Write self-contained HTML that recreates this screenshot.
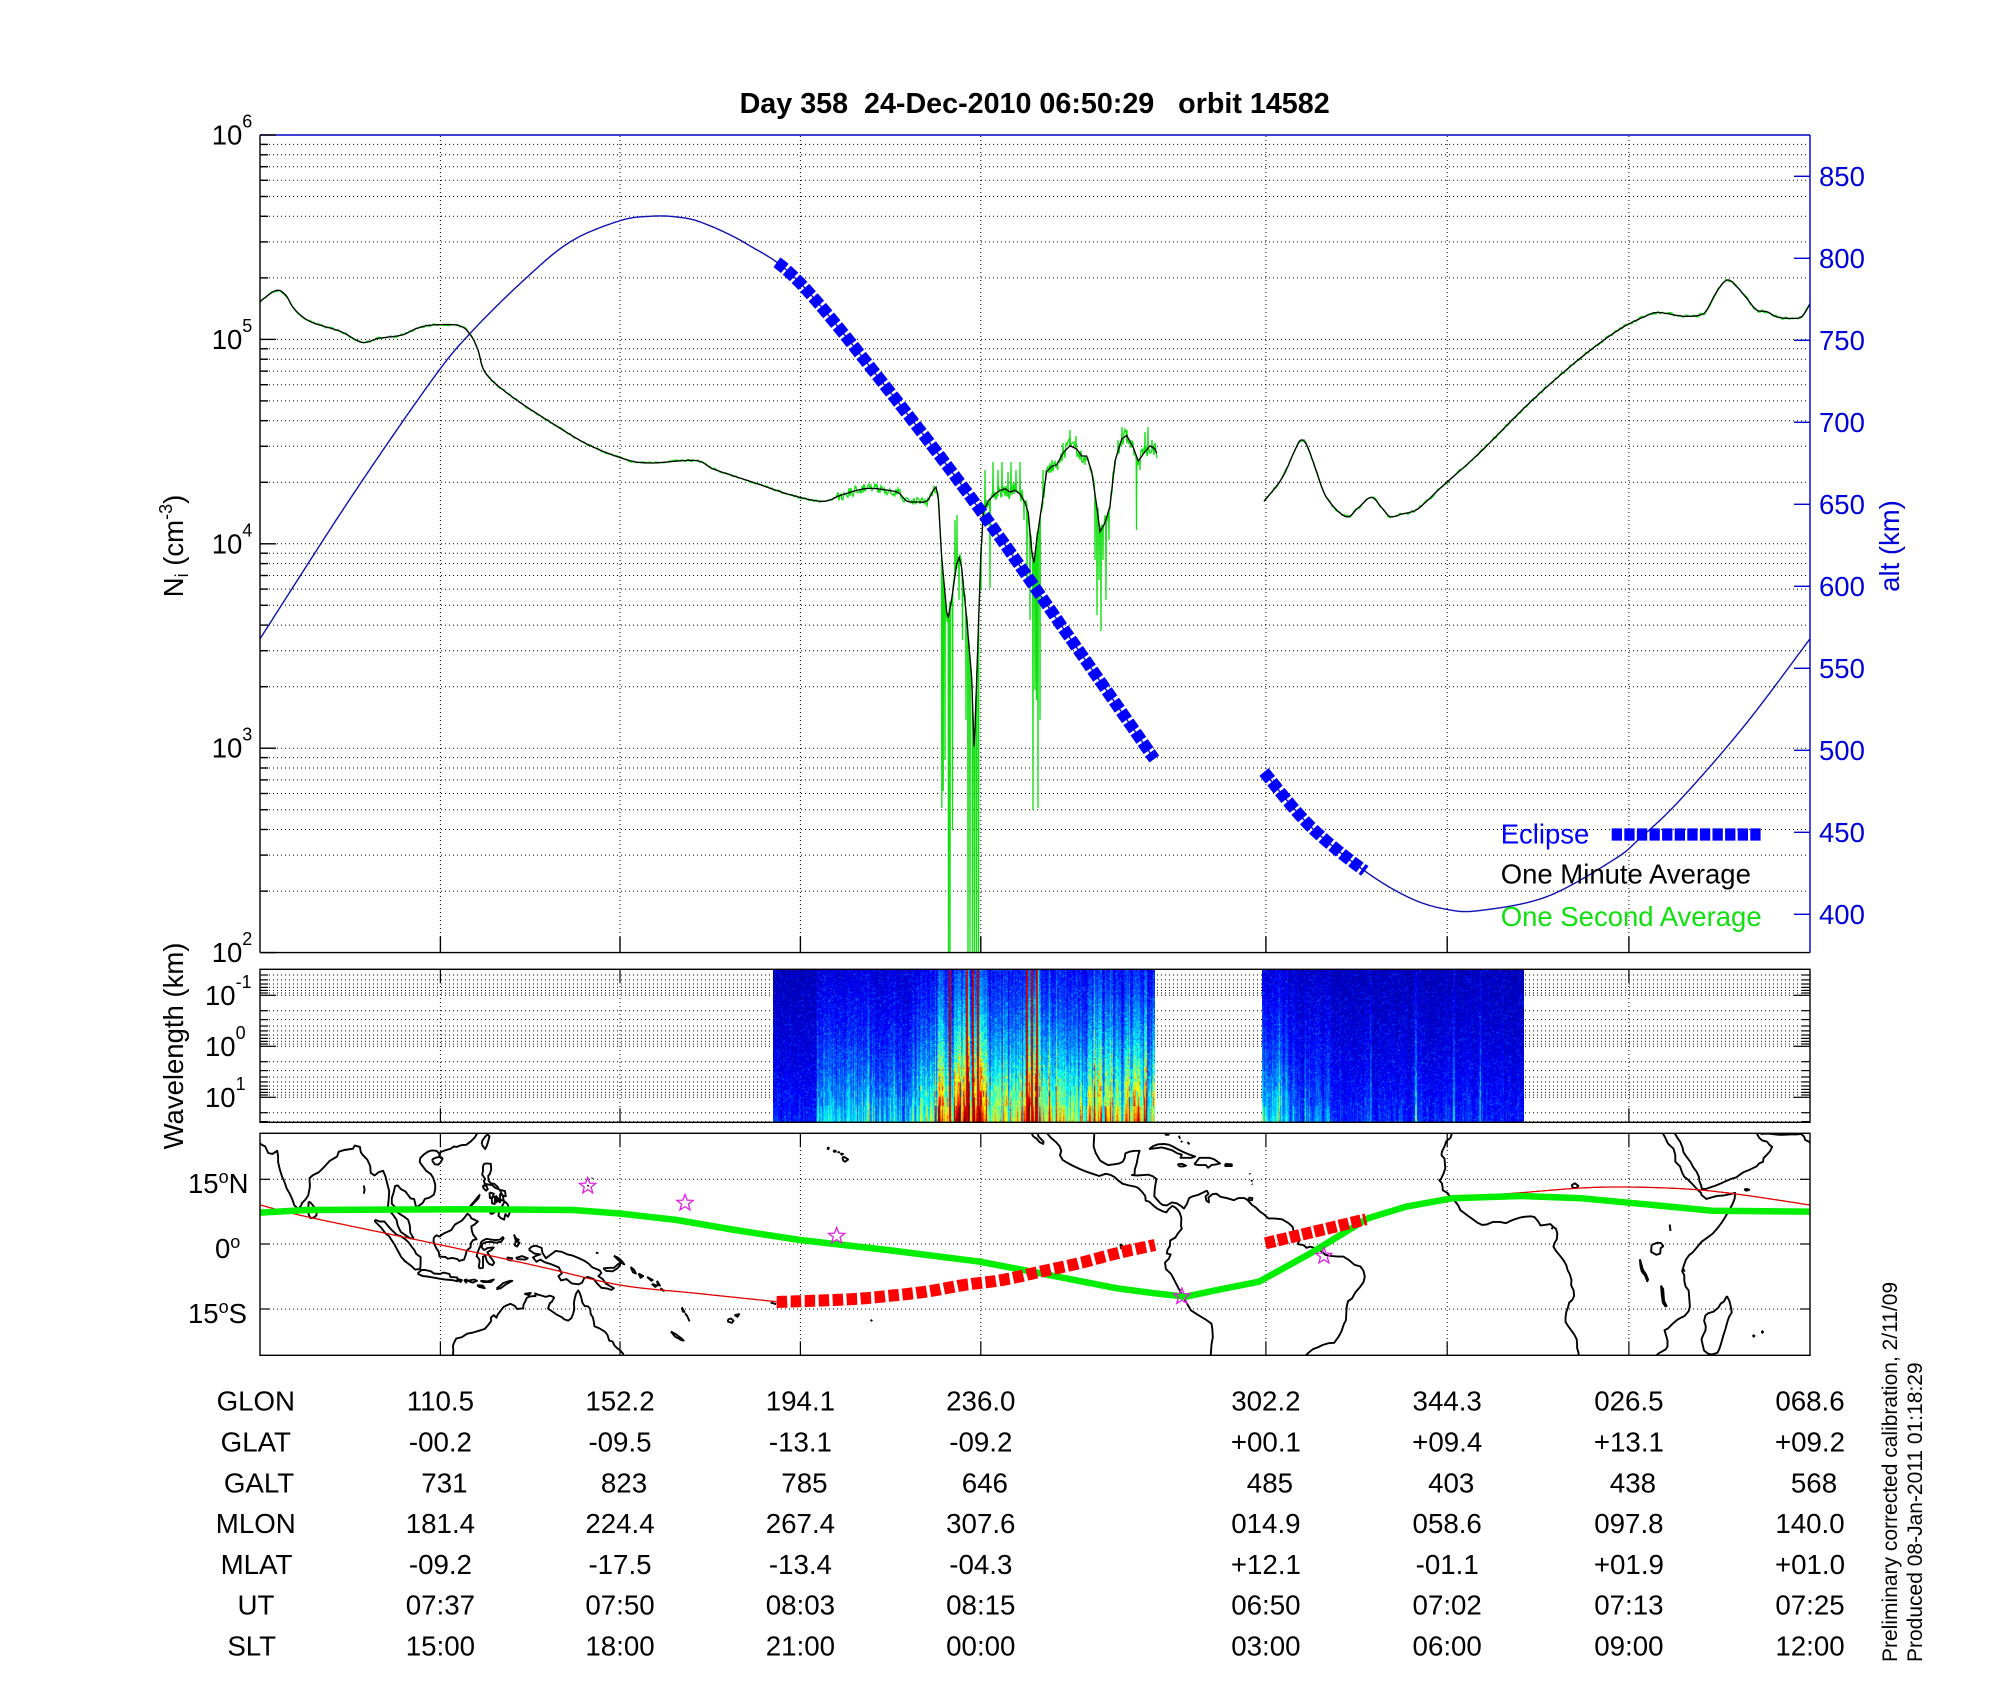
<!DOCTYPE html>
<html><head><meta charset="utf-8">
<style>
html,body{margin:0;padding:0;background:#fff;}
#wrap{position:relative;width:2000px;height:1700px;overflow:hidden;background:#fff;}
#s{position:absolute;left:0;top:0;}
canvas{position:absolute;}
text{font-family:"Liberation Sans",Arial,sans-serif;}
</style></head><body>
<div id="wrap">
<svg id="s" width="2000" height="1700" xmlns="http://www.w3.org/2000/svg">
<defs>
<clipPath id="cp"><rect x="260" y="135" width="1550" height="817.6"/></clipPath>
<clipPath id="cm"><rect x="260" y="1133.3" width="1550" height="222"/></clipPath>
</defs>
<g id="g"></g>
<text x="739.6" y="113" font-size="28.7" font-weight="bold" xml:space="preserve" style="white-space:pre">Day 358  24-Dec-2010 06:50:29   orbit 14582</text>

<g font-size="27.5" fill="#000">
<text x="211.7" y="144.5">10<tspan font-size="18" dy="-17">6</tspan></text>
<text x="211.7" y="348.9">10<tspan font-size="18" dy="-17">5</tspan></text>
<text x="211.7" y="553.3">10<tspan font-size="18" dy="-17">4</tspan></text>
<text x="211.7" y="757.7">10<tspan font-size="18" dy="-17">3</tspan></text>
<text x="211.7" y="962.1">10<tspan font-size="18" dy="-17">2</tspan></text>
<text x="205" y="1005">10<tspan font-size="18" dy="-17">-1</tspan></text>
<text x="205" y="1056">10<tspan font-size="18" dy="-17">0</tspan></text>
<text x="205" y="1107">10<tspan font-size="18" dy="-17">1</tspan></text>
<text x="188" y="1193">15<tspan font-size="18" dy="-10">o</tspan><tspan dy="10">N</tspan></text>
<text x="215" y="1258">0<tspan font-size="18" dy="-10">o</tspan></text>
<text x="188" y="1323">15<tspan font-size="18" dy="-10">o</tspan><tspan dy="10">S</tspan></text>
</g>

<g font-size="27.5" fill="#0000d8">
<text x="1819" y="186">850</text>
<text x="1819" y="268">800</text>
<text x="1819" y="350">750</text>
<text x="1819" y="432">700</text>
<text x="1819" y="514">650</text>
<text x="1819" y="596">600</text>
<text x="1819" y="678">550</text>
<text x="1819" y="760">500</text>
<text x="1819" y="842">450</text>
<text x="1819" y="924">400</text>
</g>

<text transform="translate(183,546) rotate(-90)" text-anchor="middle" font-size="27.5">N<tspan font-size="18" dy="5">i</tspan><tspan dy="-5"> (cm</tspan><tspan font-size="18" dy="-11">-3</tspan><tspan dy="11">)</tspan></text>
<text transform="translate(1899,546) rotate(-90)" text-anchor="middle" font-size="27.5" fill="#0000d8">alt (km)</text>
<text transform="translate(183,1046) rotate(-90)" text-anchor="middle" font-size="27.5">Wavelength (km)</text>

<text transform="translate(1897,1662) rotate(-90)" font-size="21">Preliminary corrected calibration, 2/11/09</text>
<text transform="translate(1922,1662) rotate(-90)" font-size="21">Produced 08-Jan-2011 01:18:29</text>

<g id="tbl" font-size="27.7" text-anchor="middle"></g>
</svg>
<canvas id="c1"></canvas>
<canvas id="c2"></canvas>
<svg id="s3" width="2000" height="1700" xmlns="http://www.w3.org/2000/svg" style="position:absolute;left:0;top:0;pointer-events:none">
<g id="g3"></g>
</svg>
</div>
<script>
(function(){
function rng(seed){return function(){seed|=0;seed=seed+0x6D2B79F5|0;let t=Math.imul(seed^seed>>>15,1|seed);t=t+Math.imul(t^t>>>7,61|t)^t;return((t^t>>>14)>>>0)/4294967296;};}
const R=rng(12345);
function h2(a,b){let h=(Math.imul(a|0,374761393)+Math.imul(b|0,668265263))|0;h=Math.imul(h^(h>>>13),1274126177);h=h^(h>>>16);return (h>>>0)/4294967296;}
let s='';
function f1(v){return (Math.round(v*10)/10).toString();}
function L(x1,y1,x2,y2,a){s+='<line x1="'+f1(x1)+'" y1="'+f1(y1)+'" x2="'+f1(x2)+'" y2="'+f1(y2)+'" '+a+'/>';}
function P(pts,a){s+='<path d="M'+pts.map(p=>f1(p[0])+','+f1(p[1])).join('L')+'" fill="none" '+a+'/>';}
function cr(pts,step){const out=[];step=step||1;
 for(let i=0;i<pts.length-1;i++){const p0=pts[Math.max(i-1,0)],p1=pts[i],p2=pts[i+1],p3=pts[Math.min(i+2,pts.length-1)];
  const m=Math.max(2,Math.ceil(Math.abs(p2[0]-p1[0])/step));
  for(let j=0;j<m;j++){const t=j/m,t2=t*t,t3=t2*t;const o=[0,1].map(k=>0.5*((2*p1[k])+(-p0[k]+p2[k])*t+(2*p0[k]-5*p1[k]+4*p2[k]-p3[k])*t2+(-p0[k]+3*p1[k]-3*p2[k]+p3[k])*t3));out.push(o);}}
 out.push(pts[pts.length-1]);return out;}
function interp(pts,x){if(x<=pts[0][0])return pts[0][1];for(let i=1;i<pts.length;i++){if(pts[i][0]>=x){const a=pts[i-1],b=pts[i];const t=(x-a[0])/((b[0]-a[0])||1);return a[1]+t*(b[1]-a[1]);}}return pts[pts.length-1][1];}

const XT=[440.4,620,800.4,980.8,1265.9,1447.2,1628.9];
const DOT='stroke="#000" stroke-width="1" stroke-dasharray="1 3"';
const yN=v=>135+(6-Math.log10(v))*204.4;
const yS=v=>1046.3+Math.log10(v)*51;

for(let n=2;n<=5;n++)for(let k=1;k<=9;k++){if(n==2&&k==1)continue;const y=yN(k*Math.pow(10,n));L(261,y,1809,y,DOT);}
XT.forEach(x=>L(x,136,x,952,DOT));
for(let d=-2;d<=1;d++)for(let k=1;k<=9;k++){const y=yS(k*Math.pow(10,d));if(y>970&&y<1121.8){L(261,y,1809,y,DOT);const tl=(k==1)?16:8;L(260,y,260+tl,y,'stroke="#000" stroke-width="1.2"');L(1810,y,1810-tl,y,'stroke="#000" stroke-width="1.2"');}}
XT.forEach(x=>{L(x,970,x,1122,DOT);L(x,969.3,x,983.3,'stroke="#000" stroke-width="1.2"');L(x,1122.3,x,1108.3,'stroke="#000" stroke-width="1.2"');});
[1179.3,1244,1309].forEach(y=>{L(261,y,1809,y,DOT);L(260,y,270,y,'stroke="#000" stroke-width="1.2"');L(1810,y,1800,y,'stroke="#000" stroke-width="1.2"');});
XT.forEach(x=>{L(x,1134,x,1355,DOT);L(x,1133.3,x,1147.3,'stroke="#000" stroke-width="1.2"');L(x,1355.3,x,1341.3,'stroke="#000" stroke-width="1.2"');});

function M(lon,lat,w){return [260+(lon+w-68.6)*4.3056,1244-lat*4.333];}
const asia=[
[[66.5,25.4],[67.2,24.8],[67.5,24],[68.4,23.6],[68.8,23.0],[69.8,22.5],[70.5,21.0],[71.5,20.8],[72.6,21.5],[72.8,20.2],[72.8,18.9],[73.2,17.2],[73.7,15.6],[74.3,14.3],[74.8,12.8],[75.5,11.6],[76.1,10.3],[76.6,8.9],[77.5,8.1],[78.1,8.8],[78.4,9.5],[79.2,10.3],[79.8,11.2],[80.2,13.2],[80.1,15.2],[80.9,15.9],[82.3,16.6],[83.5,17.8],[84.8,19.2],[86.5,20.2],[86.9,21.3],[88.2,21.7],[89,21.8],[90.2,22.0],[90.6,22.7],[91.8,22.4],[92.0,21.2],[92.4,20.6],[93.5,19.5],[94.2,18.0],[94.3,16.4],[95.2,15.8],[96.2,16.6],[97.2,16.9],[97.7,15.7],[98.2,13.8],[98.6,12.2],[98.5,10.4],[98.3,8.5],[98.5,7.9],[99.6,6.6],[100.3,5.6],[100.6,4.2],[101.3,2.8],[102.6,1.9],[103.5,1.3],[104.2,1.4],[103.5,2.6],[103.4,4.3],[103.0,5.6],[102.2,6.2],[101.1,6.9],[100.4,7.4],[100.0,8.5],[99.2,9.3],[99.2,10.6],[99.6,11.8],[100.0,13.4],[100.6,13.5],[101.3,12.7],[102.4,12.1],[102.9,11.4],[103.6,10.5],[104.4,10.4],[104.8,8.7],[105.2,8.6],[106.4,9.5],[106.9,10.4],[108.0,10.7],[109.0,11.4],[109.3,12.6],[109.3,13.8],[108.8,15.3],[108.3,16.1],[107.2,16.9],[106.5,17.8],[105.7,18.9],[105.8,19.8],[106.6,20.6],[107.6,21.3],[108.5,21.6],[109.6,21.5],[110.2,20.9],[110.3,20.3],[110.5,21.2],[111.6,21.6],[112.9,22.0],[113.6,22.5],[114.3,22.4],[115.3,22.8],[116.5,22.9],[117.5,23.6],[118.5,24.6],[119.2,25.8]],
[[79.9,9.8],[80.4,9.5],[81.2,8.5],[81.8,7.4],[81.7,6.6],[81.1,6.1],[80.3,6.0],[79.9,6.8],[79.8,8.2],[79.9,9.8]],
[[92.7,13.5],[92.9,12.5],[92.7,11.6]],
[[108.6,19.2],[109.2,18.4],[110.0,18.3],[110.6,18.9],[111.0,19.7],[110.6,20.1],[109.7,20.0],[108.7,19.6],[108.6,19.2]],
[[120.1,23.0],[120.6,22.3],[120.9,21.9],[121.3,22.7],[121.6,23.7],[121.9,24.8],[121.5,25.3],[120.9,24.8],[120.2,23.8],[120.1,23.0]],
[[120.6,18.5],[121.2,18.6],[122.2,18.5],[122.3,17.2],[122.0,16.2],[121.6,15.7],[121.7,14.6],[122.2,14.0],[123.0,13.9],[123.8,13.2],[124.1,12.6],[123.2,13.0],[122.5,13.6],[121.7,13.7],[120.8,13.9],[120.6,14.6],[120.9,15.0],[120.2,16.0],[120.4,16.9],[120.4,17.8],[120.6,18.5]],
[[120.3,13.5],[121.2,13.4],[121.5,12.6],[121.1,12.3],[120.5,12.9],[120.3,13.5]],
[[121.9,11.9],[122.9,11.6],[122.5,10.6],[122.0,10.6],[121.9,11.9]],
[[122.4,10.8],[123.2,10.9],[123.1,9.2],[122.5,9.4],[122.4,10.8]],
[[123.3,11.2],[124.0,10.4],[123.5,9.6],[123.3,11.2]],
[[124.3,12.5],[125.5,12.2],[125.7,11.0],[124.9,11.2],[124.3,12.5]],
[[124.3,11.6],[125.0,11.2],[125.2,10.0],[124.4,10.2],[124.3,11.6]],
[[123.8,10.1],[124.5,10.0],[124.3,9.6],[123.8,10.1]],
[[122.0,7.0],[122.5,7.8],[123.4,7.8],[123.9,8.4],[124.7,8.5],[125.4,9.8],[126.1,9.2],[126.4,8.2],[126.6,7.2],[126.2,6.3],[125.6,6.9],[125.3,5.6],[124.5,6.0],[124.0,6.5],[124.1,7.3],[123.7,7.6],[123.2,7.4],[122.6,7.0],[122.0,7.0]],
[[117.2,8.4],[118.2,9.4],[119.3,10.5],[119.6,11.3],[119.2,10.9],[118.5,10.0],[117.6,9.0],[117.2,8.4]],
[[109.0,1.5],[109.6,2.0],[110.3,1.7],[111.2,2.4],[113.0,3.2],[113.9,4.5],[114.8,5.0],[115.5,5.4],[116.2,6.2],[116.8,7.0],[117.3,6.6],[117.7,5.9],[118.4,5.6],[119.2,5.2],[118.3,4.4],[117.7,4.1],[117.8,3.1],[118.1,2.2],[118.9,1.1],[118.1,0.9],[117.6,0.2],[117.5,-0.8],[116.6,-1.5],[116.4,-2.4],[116.0,-3.6],[114.8,-3.9],[114.5,-3.5],[113.3,-3.2],[112.2,-3.4],[111.7,-3.0],[110.3,-2.9],[110.1,-1.8],[109.5,-0.9],[109.1,0.0],[108.9,0.7],[109.0,1.5]],
[[95.3,5.6],[96.4,5.2],[97.5,5.2],[98.3,4.2],[99.2,3.2],[100.4,2.1],[101.3,1.8],[102.2,1.2],[103.1,0.4],[103.8,-0.6],[104.4,-1.3],[104.9,-2.3],[105.9,-3.0],[105.9,-4.5],[105.8,-5.8],[104.6,-5.9],[103.8,-5.1],[102.3,-4.0],[101.4,-3.0],[100.9,-2.1],[100.3,-1.0],[99.7,0.1],[99.1,1.0],[98.6,1.8],[97.7,2.5],[96.9,3.6],[96.1,4.4],[95.3,5.2],[95.3,5.6]],
[[105.2,-6.8],[106.1,-6.0],[107.0,-6.0],[108.3,-6.3],[109.0,-6.8],[110.4,-6.9],[111.2,-6.6],[112.6,-6.9],[112.8,-7.6],[114.4,-7.7],[114.5,-8.6],[113.2,-8.3],[111.6,-8.2],[110.3,-8.0],[108.7,-7.7],[107.4,-7.5],[106.4,-7.4],[105.3,-6.9],[105.2,-6.8]],
[[114.5,-8.1],[115.5,-8.3],[115.2,-8.8],[114.5,-8.1]],
[[116.0,-8.3],[116.6,-8.2],[116.5,-8.9],[116.0,-8.3]],
[[116.8,-8.5],[118.3,-8.2],[119.0,-8.5],[118.0,-8.9],[116.8,-8.5]],
[[119.8,-8.5],[121.5,-8.6],[122.9,-8.2],[122.2,-8.8],[120.5,-8.8],[119.8,-8.5]],
[[119.0,-9.5],[120.3,-9.6],[120.8,-10.2],[119.5,-9.9],[119.0,-9.5]],
[[123.5,-10.3],[124.4,-9.6],[125.1,-9.0],[126.7,-8.5],[127.2,-8.5],[125.6,-9.4],[124.5,-10.2],[123.7,-10.4],[123.5,-10.3]],
[[119.4,-5.5],[119.6,-4.0],[119.5,-3.5],[118.9,-2.8],[119.3,-1.5],[119.8,-0.4],[119.9,0.4],[120.4,0.8],[121.2,1.2],[122.4,1.0],[123.3,0.9],[124.3,1.0],[125.0,1.6],[125.2,1.3],[124.6,0.5],[123.5,0.3],[122.0,0.5],[121.0,0.4],[120.2,0.0],[120.1,-0.8],[120.7,-1.4],[121.5,-0.9],[122.9,-0.8],[122.3,-1.4],[121.4,-1.9],[122.0,-2.9],[122.5,-3.5],[123.0,-4.3],[122.6,-4.9],[121.8,-4.6],[121.3,-4.0],[120.9,-2.7],[120.4,-2.9],[120.4,-4.2],[120.4,-5.5],[119.8,-5.6],[119.4,-5.5]],
[[127.6,2.2],[128.0,1.3],[128.7,1.0],[128.2,0.6],[128.9,0.3],[128.3,-0.6],[127.8,-0.3],[128.0,0.8],[127.6,2.2]],
[[128.0,-3.2],[129.5,-2.8],[130.8,-3.3],[130.2,-3.6],[128.5,-3.5],[128.0,-3.2]],
[[126.0,-3.1],[127.2,-3.3],[126.9,-3.8],[126.1,-3.6],[126.0,-3.1]],
[[131.0,-1.3],[131.7,-0.6],[132.7,-0.4],[134.0,-0.9],[134.2,-2.0],[135.0,-3.3],[135.9,-2.6],[137.3,-1.6],[138.7,-1.8],[140.0,-2.4],[141.0,-2.6],[142.5,-3.2],[144.0,-3.9],[145.0,-4.6],[145.8,-5.4],[147.5,-6.1],[147.9,-6.7],[147.2,-7.4],[148.2,-8.1],[148.9,-9.1],[149.7,-9.6],[150.8,-10.2],[150.2,-10.6],[149.3,-10.3],[147.9,-10.1],[146.9,-9.1],[146.1,-8.1],[144.7,-7.6],[143.9,-7.9],[143.4,-8.9],[142.6,-9.3],[141.0,-9.1],[139.8,-8.1],[138.5,-8.4],[137.9,-7.4],[138.7,-6.8],[138.0,-5.4],[136.0,-4.6],[134.7,-4.2],[133.7,-3.6],[132.8,-4.1],[132.0,-3.1],[132.8,-2.7],[133.7,-2.4],[132.3,-2.2],[131.0,-1.3]],
[[148.3,-5.6],[149.8,-5.5],[150.8,-5.5],[151.5,-4.9],[152.3,-4.3],[152.2,-5.0],[151.5,-5.7],[150.5,-6.3],[149.0,-6.2],[148.3,-5.6]],
[[150.8,-2.7],[151.8,-3.2],[152.7,-4.0],[153.2,-4.7],[152.8,-4.5],[151.7,-3.6],[150.8,-2.7]],
[[154.7,-5.3],[155.5,-6.0],[155.9,-6.8],[155.2,-6.5],[154.7,-5.3]],
[[156.5,-6.8],[157.6,-7.4],[157.0,-7.8],[156.5,-6.8]],
[[158.5,-7.6],[159.8,-8.3],[159.5,-8.5],[158.5,-7.6]],
[[159.6,-9.2],[160.8,-9.6],[160.4,-9.9],[159.6,-9.2]],
[[160.8,-8.5],[161.5,-9.6],[161.0,-9.4],[160.8,-8.5]],
[[161.6,-10.2],[162.4,-10.8],[161.6,-10.5]],
[[146.6,-2.0],[147.2,-2.1]],
[[144.7,13.3],[144.9,13.6]],[[145.7,15.1],[145.8,15.3]],
[[166.6,-14.6],[167.2,-15.7],[166.8,-15.6],[166.6,-14.6]],
[[167.3,-16.0],[167.8,-16.6],[168.3,-17.7],[168.1,-17.3]],
[[164.0,-20.2],[165.3,-20.9],[166.5,-21.8],[167.0,-22.3],[166.5,-22.2],[165.0,-21.4],[164.0,-20.2]],
[[177.3,-17.4],[178.0,-17.2],[178.6,-17.7],[178.2,-18.2],[177.3,-17.9],[177.3,-17.4]],
[[178.8,-16.4],[179.9,-16.2],[179.5,-16.8],[178.8,-16.4]],
[[130.0,-11.5],[131.5,-11.3],[131.0,-11.8],[130.0,-11.5]],
[[113.4,-25.8],[113.5,-24.5],[113.4,-23.5],[113.8,-22.5],[114.2,-21.8],[115.5,-21.5],[116.7,-20.7],[118.2,-20.4],[119.5,-20.0],[120.8,-19.6],[121.6,-18.7],[122.3,-17.8],[122.2,-17.0],[122.9,-16.4],[123.5,-17.0],[123.8,-16.3],[124.5,-15.4],[125.2,-14.5],[126.0,-14.1],[126.8,-13.8],[127.8,-14.3],[128.3,-15.0],[129.2,-14.9],[129.7,-14.9],[129.8,-14.0],[130.2,-13.3],[130.6,-12.4],[131.3,-12.1],[132.6,-12.0],[132.5,-11.4],[133.2,-11.7],[134.0,-11.9],[135.0,-12.2],[135.9,-11.9],[136.7,-12.2],[136.9,-12.4],[136.4,-13.3],[135.9,-13.7],[135.5,-14.9],[136.5,-15.6],[137.5,-16.3],[138.7,-16.9],[139.3,-17.4],[140.2,-17.7],[140.9,-17.1],[141.3,-16.2],[141.6,-15.0],[141.5,-13.6],[141.7,-12.6],[142.0,-11.5],[142.5,-10.7],[142.8,-11.2],[143.2,-12.3],[143.5,-13.6],[144.0,-14.3],[144.8,-14.4],[145.3,-15.0],[145.4,-16.2],[145.9,-16.9],[146.1,-17.8],[146.3,-19.0],[147.5,-19.5],[148.8,-20.3],[149.3,-21.0],[149.7,-22.3],[150.5,-22.5],[150.9,-23.4],[151.6,-24.1],[152.3,-24.6],[152.9,-25.3],[153.1,-25.9]]
];
const amer=[
[[-112.3,25.8],[-111.8,24.8],[-111.0,24.3],[-110.3,23.5],[-109.5,23.1],[-109.4,23.6],[-110.0,24.2],[-110.6,24.8],[-110.8,25.8]],
[[-108.8,25.8],[-107.8,24.6],[-106.5,23.5],[-105.7,22.6],[-105.3,21.5],[-105.6,20.5],[-105.0,19.4],[-103.8,18.7],[-102.5,18.0],[-101.0,17.3],[-99.5,16.7],[-98.0,16.2],[-96.5,15.7],[-95.0,16.2],[-94.0,16.0],[-93.0,15.5],[-92.0,14.6],[-91.0,13.9],[-89.5,13.5],[-88.0,13.2],[-87.4,12.9],[-86.5,12.0],[-85.8,11.1],[-85.7,10.0],[-85.0,9.8],[-84.7,9.6],[-83.6,8.6],[-82.9,8.1],[-81.6,7.5],[-80.9,7.3],[-80.4,8.0],[-79.5,8.8],[-78.8,8.4],[-78.2,7.8],[-77.8,7.2],[-77.4,6.0],[-77.5,4.2],[-77.3,3.5],[-78.2,2.5],[-78.8,1.5],[-80.0,0.8],[-80.1,-0.5],[-80.6,-1.3],[-80.8,-2.2],[-79.9,-2.4],[-80.3,-3.4],[-81.2,-4.3],[-81.0,-5.8],[-79.8,-6.9],[-79.0,-8.4],[-78.2,-10.0],[-77.2,-11.8],[-76.2,-13.6],[-75.2,-15.3],[-73.5,-16.4],[-71.8,-17.4],[-70.4,-18.4],[-70.2,-19.8],[-70.1,-21.5],[-70.4,-23.2],[-70.5,-24.5],[-70.6,-25.8]],
[[-97.6,25.8],[-97.7,24.3],[-97.8,22.5],[-97.3,21.0],[-96.3,19.3],[-95.2,18.6],[-94.4,18.2],[-93.0,18.4],[-91.8,18.6],[-91.0,19.0],[-90.6,19.8],[-90.4,20.9],[-89.5,21.3],[-88.2,21.5],[-87.1,21.5],[-87.4,20.5],[-87.6,19.6],[-87.8,18.5],[-88.2,17.3],[-88.3,16.0],[-88.9,15.9],[-87.7,15.8],[-86.3,15.9],[-85.0,16.0],[-84.0,15.6],[-83.2,15.0],[-83.4,14.0],[-83.6,12.5],[-83.7,11.0],[-83.1,10.3],[-82.3,9.4],[-81.7,9.0],[-80.8,8.9],[-79.6,9.6],[-78.5,9.4],[-77.4,8.7],[-76.8,8.2],[-76.1,9.3],[-75.6,10.6],[-74.8,11.0],[-73.6,11.3],[-72.3,11.9],[-71.5,12.3],[-71.1,11.6],[-71.8,11.0],[-71.6,10.0],[-71.0,9.6],[-71.1,10.8],[-70.2,11.5],[-69.3,11.6],[-68.3,10.9],[-66.9,10.6],[-65.2,10.1],[-64.2,10.6],[-62.8,10.6],[-62.0,10.1],[-61.0,9.0],[-60.2,8.5],[-59.3,7.6],[-58.3,6.9],[-57.2,5.9],[-55.9,5.9],[-54.0,5.7],[-52.5,4.8],[-51.6,4.0],[-51.2,2.6],[-50.3,1.8],[-49.9,1.0],[-50.4,0.0],[-49.0,-0.3],[-48.3,-0.9],[-47.5,-0.6],[-46.2,-1.0],[-44.7,-1.8],[-44.0,-2.5],[-42.5,-2.8],[-41.0,-2.9],[-39.8,-2.9],[-38.5,-3.7],[-37.2,-4.8],[-35.8,-5.2],[-35.1,-6.2],[-34.8,-7.5],[-35.1,-8.8],[-35.9,-9.9],[-37.0,-11.2],[-37.8,-12.6],[-38.7,-13.2],[-39.0,-14.5],[-39.1,-16.0],[-39.2,-17.6],[-39.7,-18.6],[-40.2,-20.1],[-40.9,-21.4],[-41.9,-22.8],[-43.2,-22.9],[-44.6,-23.3],[-45.6,-23.8],[-46.9,-24.3],[-47.9,-25.1],[-48.6,-25.8]],
[[-84.9,21.9],[-84.0,22.6],[-82.8,23.0],[-81.4,23.1],[-80.2,22.9],[-79.2,22.4],[-77.9,21.7],[-76.9,21.2],[-75.7,20.7],[-74.2,20.2],[-75.1,19.9],[-76.6,19.9],[-77.6,19.9],[-77.3,20.6],[-78.3,20.9],[-79.5,21.6],[-80.8,22.0],[-82.0,22.3],[-83.3,22.1],[-84.9,21.9]],
[[-74.4,18.4],[-73.2,19.9],[-72.0,19.9],[-70.9,19.9],[-69.9,19.6],[-68.4,18.6],[-69.2,18.4],[-70.4,18.2],[-71.2,17.6],[-71.7,18.2],[-73.4,18.2],[-74.4,18.4]],
[[-78.3,18.4],[-77.3,18.5],[-76.3,18.1],[-76.9,17.9],[-77.8,17.9],[-78.3,18.4]],
[[-67.2,18.5],[-65.7,18.4],[-65.7,18.0],[-67.2,18.0],[-67.2,18.5]],
[[-61.6,16.3],[-61.4,16.1]],[[-61.1,14.8],[-61.0,14.4]],[[-61.0,13.9],[-60.9,13.7]],
[[-61.8,10.7],[-60.9,10.6],[-61.0,10.1],[-61.8,10.1],[-61.8,10.7]],
[[-78.0,25.0],[-77.7,24.3]],[[-77.5,23.8],[-77.2,23.5]],[[-76.0,23.5],[-75.5,23.0]],
[[-81.3,25.8],[-81.0,25.2],[-80.4,25.2],[-80.2,25.8]],
[[-91.6,0.0],[-91.2,-0.3],[-91.4,-1.0],[-91.6,0.0]],[[-90.6,-0.5],[-90.3,-0.8]],
[[-155.9,20.2],[-155.1,19.7],[-154.8,19.5],[-155.5,19.0],[-155.9,19.2],[-156.1,19.8],[-155.9,20.2]],
[[-156.6,20.9],[-156.0,20.8],[-156.3,20.6],[-156.6,20.9]],
[[-158.2,21.6],[-157.7,21.5],[-157.7,21.3],[-158.1,21.3],[-158.2,21.6]],
[[-159.7,22.2],[-159.3,22.2],[-159.4,21.9],[-159.7,22.1]],
[[-157.3,21.2],[-156.7,21.15]],
[[-172.8,-13.5],[-171.5,-13.9]],[[-149.6,-17.5],[-149.2,-17.8]],
[[-14.5,25.8],[-14.9,24.5],[-15.9,23.7],[-16.3,22.5],[-16.9,21.3],[-17.0,20.5],[-16.3,19.7],[-16.2,18.6],[-16.1,17.5],[-16.5,16.3],[-17.1,15.0],[-17.5,14.7],[-16.9,14.0],[-16.7,13.0],[-16.7,12.4],[-15.6,11.8],[-15.1,11.0],[-14.6,10.4],[-13.8,9.8],[-13.1,8.9],[-12.6,7.8],[-11.9,7.3],[-11.0,6.6],[-10.0,5.9],[-8.8,5.0],[-7.6,4.4],[-6.5,4.5],[-5.0,5.1],[-3.5,5.1],[-2.0,4.8],[-1.0,5.3],[0.0,5.7],[1.2,6.1],[2.5,6.3],[3.8,6.4],[4.6,6.2],[5.4,5.3],[6.0,4.3],[7.0,4.4],[8.3,4.6],[8.9,4.0],[9.6,3.5],[9.9,2.4],[9.8,1.1],[9.3,0.3],[9.0,-0.6],[9.6,-1.6],[10.5,-2.7],[11.4,-3.8],[12.0,-4.9],[12.3,-6.0],[12.8,-7.0],[13.2,-8.3],[13.1,-9.5],[13.7,-10.7],[13.8,-12.0],[13.4,-12.9],[12.7,-13.5],[12.4,-14.6],[12.0,-15.7],[11.8,-17.0],[11.8,-18.0],[12.4,-18.9],[13.2,-20.0],[13.9,-21.0],[14.4,-22.0],[14.5,-23.0],[14.5,-24.0],[14.8,-25.0],[14.9,-25.8]],
[[8.5,3.7],[8.9,3.5]],
[[34.3,25.8],[35.0,24.5],[35.6,23.2],[36.9,22.0],[37.3,20.5],[37.3,19.0],[38.4,17.9],[38.9,16.5],[39.4,15.5],[40.3,14.8],[41.3,13.8],[42.4,12.6],[43.3,11.8],[43.4,11.3],[44.5,10.4],[45.6,10.7],[47.0,11.1],[48.5,11.2],[50.0,11.5],[51.2,11.8],[51.1,10.5],[50.6,9.2],[49.8,7.8],[48.9,6.2],[48.0,4.8],[47.0,3.5],[46.0,2.4],[44.8,1.5],[43.4,0.5],[42.3,-0.8],[41.4,-1.9],[40.5,-2.6],[39.8,-3.6],[39.3,-4.9],[38.9,-6.3],[39.4,-7.2],[39.4,-8.5],[39.7,-9.8],[40.4,-10.7],[40.5,-11.8],[40.6,-13.2],[40.7,-14.5],[40.4,-15.5],[39.5,-16.6],[37.9,-17.4],[36.8,-18.3],[35.6,-19.5],[34.8,-19.9],[35.2,-21.2],[35.5,-22.3],[35.5,-23.6],[35.1,-24.3],[33.5,-25.2],[32.8,-25.8]],
[[49.3,-12.0],[49.9,-13.2],[50.3,-14.9],[50.4,-15.8],[49.8,-16.8],[49.4,-18.0],[49.0,-19.5],[48.5,-21.0],[48.0,-22.8],[47.5,-24.3],[47.1,-25.1],[45.8,-25.5],[44.9,-25.3],[44.0,-24.6],[43.7,-23.4],[43.4,-22.0],[43.8,-21.0],[44.3,-20.0],[44.4,-19.0],[44.0,-17.7],[44.3,-16.5],[44.9,-16.0],[46.2,-15.6],[47.3,-14.7],[47.9,-13.7],[48.6,-13.3],[49.3,-12.0]],
[[37.0,25.8],[37.8,24.5],[38.5,23.5],[39.0,22.2],[39.2,21.2],[40.0,20.0],[40.8,19.0],[41.5,17.7],[42.3,16.6],[42.8,15.5],[42.9,14.5],[43.3,13.5],[43.5,12.7],[44.4,12.7],[45.2,13.0],[46.5,13.4],[48.0,14.0],[49.0,14.5],[50.2,15.0],[51.5,15.4],[52.3,16.0],[53.2,16.6],[54.3,17.0],[55.3,17.5],[56.2,17.9],[56.8,18.6],[57.7,19.0],[57.8,19.8],[58.5,20.5],[59.3,21.4],[59.8,22.4],[59.2,22.9],[58.6,23.6],[57.5,23.9],[56.8,24.5],[56.3,25.4],[56.2,25.8]],
[[53.3,12.6],[54.0,12.7],[54.5,12.5],[53.8,12.3],[53.3,12.6]],
[[56.8,25.8],[57.3,25.4],[58.5,25.5],[59.6,25.4],[61.5,25.2],[62.5,25.2],[64.0,25.3],[65.5,25.3],[66.5,25.4],[67.2,24.8],[67.5,24.0],[68.4,23.6],[68.8,23.0],[69.8,22.5]],
[[31.8,-0.2],[33.2,0.3],[34.0,0.2],[34.5,-0.5],[33.9,-1.0],[33.8,-2.2],[32.9,-2.5],[31.7,-1.8],[31.8,-0.2]],
[[29.1,-3.5],[29.4,-4.6],[29.8,-6.0],[30.5,-7.0],[31.0,-8.2],[30.8,-8.6],[30.3,-7.3],[29.5,-6.3],[29.2,-5.0],[29.1,-3.5]],
[[34.0,-9.6],[34.5,-10.4],[34.6,-11.8],[34.7,-13.2],[35.3,-14.3],[35.0,-14.4],[34.4,-13.5],[34.2,-12.0],[34.0,-9.6]],
[[13.2,13.6],[14.0,14.0],[14.8,13.4],[14.3,12.9],[13.5,13.0],[13.2,13.6]],
[[36.0,4.5],[36.2,3.0]],
[[57.4,-20.0],[57.7,-20.3],[57.5,-20.5],[57.4,-20.0]],
[[55.3,-21.0],[55.7,-21.2],[55.5,-21.4],[55.3,-21.0]],
[[39.2,-5.8],[39.5,-6.4]]
];
s+='<g clip-path="url(#cm)">';
const CST='stroke="#000" stroke-width="1.9" stroke-linejoin="round"';
asia.forEach(c=>P(c.map(p=>M(p[0],p[1],0)),CST));
amer.forEach(c=>P(c.map(p=>M(p[0],p[1],360)),CST));
P(cr([[260.3,1205],[306.7,1216.7],[433.3,1243.3],[540,1266.7],[620,1285],[696.4,1293.3],[776.7,1301.7]],2),'stroke="#e00000" stroke-width="1.3"');
P(cr([[1366,1219.3],[1406,1206],[1452,1198.3],[1520.7,1192.7],[1597,1187.3],[1673.5,1188.3],[1730.8,1193.3],[1810,1205]],2),'stroke="#e00000" stroke-width="1.3"');
P([[258,1212.7],[306.7,1210],[473,1209.3],[573,1210],[620,1213.5],[677,1220],[735,1230],[800,1240],[887.5,1250],[980,1261.7],[1040.4,1273.3],[1116.9,1288.3],[1155,1293.3],[1185.7,1296.7],[1217,1290],[1259,1281.7],[1310.5,1253.3],[1367.8,1218.3],[1406,1206.7],[1451.9,1198.3],[1520.7,1196],[1581.8,1198.3],[1635.3,1203.3],[1711.7,1210.7],[1812,1211.7]],'stroke="#00ee00" stroke-width="6.5" stroke-linejoin="round"');
P(cr([[776.7,1302],[849.3,1299.3],[887.5,1296],[925.8,1291.7],[964,1285],[1002.2,1280],[1040.4,1271.7],[1078.6,1263.3],[1116.9,1253.3],[1155,1245]],2),'stroke="#ff0000" stroke-width="12" stroke-dasharray="10.5 3.5"');
P([[1265.4,1243.3],[1366,1219.3]],'stroke="#ff0000" stroke-width="12" stroke-dasharray="10 2.6"');
function star(cx,cy,r){const p=[];for(let i=0;i<10;i++){const a=-Math.PI/2+i*Math.PI/5;const rr=i%2?r*0.42:r;p.push(f1(cx+rr*Math.cos(a))+','+f1(cy+rr*Math.sin(a)));}s+='<polygon points="'+p.join(' ')+'" fill="none" stroke="#e020e0" stroke-width="1.3"/>';}
[[587.7,1186],[685,1203],[836.7,1236],[1181.8,1296.5],[1323.9,1256]].forEach(q=>star(q[0],q[1],8.5));
s+='</g>';

const altA=cr([[260,638.8],[350,499],[432,380],[470.5,333],[524,280],[570,242],[619,221],[650,216.3],[677,217],[703,223],[748,244.7],[800,282.9],[890,392],[980.8,510.9],[1070,638],[1154.3,759]],1);
const altB=cr([[1264,772],[1310,826],[1364.8,871],[1410,898],[1447,909.4],[1480,910.5],[1546.7,896.7],[1613.3,860],[1640,838.3],[1680,800],[1745,725],[1810,638.8]],1);
const BLraw=[[260,301.5],[276,290.5],[285.6,295],[294.3,309],[310.3,321.6],[340.9,331.6],[361.8,342.3],[379,338.3],[401.9,335],[417,328.3],[432.4,325],[459,325.6],[470.5,335],[478,350],[485.8,373.4],[510.2,395.4],[548.5,420.9],[586.7,443.9],[625,459.2],[650.5,463],[695.1,460.5],[714.3,469.4],[752.5,482.1],[790.8,494.9],[822.7,501.3],[841.8,494.9],[867.3,488.5],[892.9,491.1],[900,494],[906.7,501],[916.7,502],[926.7,501],[933.3,490.4]];
const BLtail=[[936,487],[938.3,499],[941.7,557.5],[946.7,612],[948.3,617.6],[951.7,598.7],[956.7,564],[959.3,557.5],[961.7,568],[966.7,619],[971.7,677.7],[974,746.5],[975,729],[977.3,660.5],[980.7,557.5],[983.3,512.8],[988.3,500.8],[995,494],[1000,490.4],[1005,488.7],[1010,492],[1015,490.4],[1020,494],[1025,502.5],[1028.3,512.8],[1031.7,550.6],[1034,562.6],[1036.7,540],[1041.7,506],[1046.7,471.5],[1051.7,466.4],[1056.7,464.7],[1063.3,452.6],[1070,445.8],[1076.7,449],[1081.7,456],[1086.7,456],[1091.7,471.5],[1096.7,506],[1100,531.7],[1105,523],[1110,506],[1115,461],[1121.7,439],[1126.7,435.5],[1133.3,447.5],[1138.3,461],[1143.3,454],[1150,445.8],[1155,449],[1156.7,453.3]];
const BL=cr(BLraw,1).concat(BLtail);
const BR=cr([[1264,501.3],[1281.9,478.3],[1295,450],[1301,440],[1307.4,446.4],[1316,470],[1326.5,497.4],[1345.7,516.6],[1358,508],[1371.2,497.4],[1382,508],[1390.3,516.6],[1402,514],[1415.8,510.2],[1428,500],[1441.3,487.2],[1479.6,452.8],[1530.6,401.8],[1581.6,357.1],[1619.9,329.1],[1645.4,316.3],[1658.2,312.5],[1683.7,316.3],[1700,315],[1706.7,310],[1716.7,291.7],[1727.3,280],[1736.7,286.7],[1746.7,298.3],[1756.7,310],[1766.7,311.7],[1778.3,317.3],[1796.7,318.3],[1803.3,315],[1810.3,303.3]],1);
const spikes=[[941.8,808],[943.2,791],[945,760],[948.5,960],[950,960],[952.5,830],[955,520],[957,515],[959,600],[962.5,640],[966,720],[968,960],[970,960],[972.5,960],[974.5,960],[976.5,960],[978.5,960],[981,590],[985,470],[990,588],[993,462],[998,470],[1002,462],[1008,472],[1011,462],[1016,470],[1020,462],[1024,520],[1027,580],[1030,620],[1033,810],[1035,690],[1036.5,700],[1038,808],[1040,720],[1043,470],[1046,470],[1052,460],[1058,462],[1063,443],[1070,430],[1076,436],[1080,460],[1085,465],[1090,470],[1095,560],[1097,615],[1099,580],[1101,631],[1103,560],[1106,600],[1109,540],[1113,480],[1118,440],[1122,427],[1127,430],[1132,440],[1136.5,530],[1140,470],[1145,432],[1148,427],[1152,440],[1157,455]];
const GL=[];let si=0;
for(let x=260;x<=1157;){
 while(si<spikes.length&&spikes[si][0]<x){const sx=spikes[si][0];GL.push([sx-0.3,interp(BL,sx-0.3)]);GL.push([sx,spikes[si][1]]);GL.push([sx+0.3,interp(BL,sx+0.3)]);si++;}
 const amp=x<838?1.1:(x<935?5:8);
 GL.push([x,interp(BL,x)+(R()-0.5)*2*amp]);
 x+=(x<838?2:1);
}
const GR=[];for(let x=1264;x<=1810;x+=2){GR.push([x,interp(BR,x)+(R()-0.5)*3]);}
s+='<g clip-path="url(#cp)">';
P(altA,'stroke="#1010b0" stroke-width="1.4"');
P(altB,'stroke="#1010b0" stroke-width="1.4"');
P(GL,'stroke="#10e010" stroke-width="1.3"');
P(GR,'stroke="#10e010" stroke-width="1.3"');
P(BL,'stroke="#000" stroke-width="1.3"');
P(BR,'stroke="#000" stroke-width="1.3"');
s+='</g>';
document.getElementById('g').innerHTML=s;

s='';
P(altA.filter(p=>p[0]>=776.8&&p[0]<=1154.3),'stroke="#0000ff" stroke-width="12" stroke-dasharray="10 2.6"');
P(altB.filter(p=>p[0]>=1264&&p[0]<=1364.8),'stroke="#0000ff" stroke-width="12" stroke-dasharray="10 2.6"');
const BK='stroke="#000" stroke-width="1.4"', BB='stroke="#0000c8" stroke-width="1.4"';
L(260,135,1810,135,BB);L(1810,135,1810,952.6,BB);
L(260,135,260,952.6,BK);L(260,952.6,1810,952.6,BK);
for(let n=2;n<=6;n++){const y=yN(Math.pow(10,n));L(260,y,276,y,BK);if(n<6)for(let k=2;k<=9;k++){const yy=yN(k*Math.pow(10,n));L(260,yy,268,yy,BK);}}
XT.forEach(x=>L(x,952.6,x,936.6,BK));
for(let a=400;a<=850;a+=50){const y=176.3+(850-a)*1.64;L(1794,y,1810,y,BB);}
s+='<rect x="260" y="969.3" width="1550" height="153" fill="none" '+BK+'/>';
s+='<rect x="260" y="1133.3" width="1550" height="222" fill="none" '+BK+'/>';
s+='<text x="1500.7" y="843.3" font-size="27.5" fill="#0000ff" font-family="Liberation Sans, Arial, sans-serif">Eclipse</text>';
L(1611.7,834.5,1762.7,834.5,'stroke="#0000ff" stroke-width="12.3" stroke-dasharray="10.3 2.3"');
s+='<text x="1500.7" y="883.3" font-size="27.5" fill="#000" font-family="Liberation Sans, Arial, sans-serif">One Minute Average</text>';
s+='<text x="1500.7" y="926" font-size="27.5" fill="#10e010" font-family="Liberation Sans, Arial, sans-serif">One Second Average</text>';
document.getElementById('g3').innerHTML=s;

const cols=[440.4,620,800.4,980.8,1265.9,1447.2,1628.9,1810];
const rows=[
['GLON',255.8,['110.5','152.2','194.1','236.0','302.2','344.3','026.5','068.6'],0],
['GLAT',255.8,['-00.2','-09.5','-13.1','-09.2','+00.1','+09.4','+13.1','+09.2'],0],
['GALT',259,['731','823','785','646','485','403','438','568'],4],
['MLON',255.8,['181.4','224.4','267.4','307.6','014.9','058.6','097.8','140.0'],0],
['MLAT',256.5,['-09.2','-17.5','-13.4','-04.3','+12.1','-01.1','+01.9','+01.0'],0],
['UT',256,['07:37','07:50','08:03','08:15','06:50','07:02','07:13','07:25'],0],
['SLT',251.7,['15:00','18:00','21:00','00:00','03:00','06:00','09:00','12:00'],0]];
let t='';
rows.forEach((r,i)=>{const y=(1410.7+i*40.8).toFixed(1);t+='<text x="'+r[1]+'" y="'+y+'">'+r[0]+'</text>';r[2].forEach((v,j)=>{t+='<text x="'+(cols[j]+r[3]).toFixed(1)+'" y="'+y+'">'+v+'</text>';});});
document.getElementById('tbl').innerHTML=t;

function jet(v){v=Math.max(0,Math.min(1,v));const c=x=>Math.round(255*Math.max(0,Math.min(1,x)));return [c(Math.min(4*v-1.5,-4*v+4.5)),c(Math.min(4*v-0.5,-4*v+3.5)),c(Math.min(4*v+0.5,-4*v+2.5))];}
function spec(id,x0,w,act,special){
 const c=document.getElementById(id);c.width=w;c.height=152;c.style.left=x0+'px';c.style.top='970px';
 const ctx=c.getContext('2d');const img=ctx.createImageData(w,152);const d=img.data;
 let fp=0.8;
 for(let i=0;i<w;i++){
  const x=x0+i+0.5;const a=act(x);
  let f=0.45+0.75*R();if(R()<0.15)f*=0.4;f=0.7*f+0.3*fp;fp=f;if(R()<0.07)f*=1.5;
  const sp=special(x);
  for(let j=0;j<152;j++){
   const y=970+j+0.5;const lam=Math.pow(10,(y-1046.3)/51);const bin=Math.floor(30/lam);
   const h=(1122.3-y)/153;const hh=h2(i*3+11,bin*13+5);
   let v=0.045-0.025*h+0.04*h2(i*7+3,bin);
   v+=a*f*Math.exp(-h*1.8)*(0.75+0.5*hh);
   if(h2(i*31+1,j*17+2)<0.12)v+=0.05+0.08*h2(i,j);
   if(sp!==null)v=sp+0.06*(hh-0.5);
   const col=jet(v);const k=(j*w+i)*4;d[k]=col[0];d[k+1]=col[1];d[k+2]=col[2];d[k+3]=255;
  }
 }
 ctx.putImageData(img,0,0);
}
function actL(x){const seg=[[773,0.1],[817,0.35],[913,0.6],[937,1.05],[987,0.7],[1023,1.1],[1040,0.65],[1093,0.95],[1113,0.65],[1133,0.95],[1147,0.55]];let a=0.1;for(const q of seg){if(x>=q[0])a=q[1];}return a;}
function spL(x){const reds=[950,966.7,973.3,978.3,1026.7,1031.7,1036.7];for(const r of reds){if(Math.abs(x-r)<0.9)return 0.93;}if(Math.abs(x-1038.2)<0.6)return 0.4;return null;}
function actR(x){let a=x<1290?0.4:(x<1330?0.22:0.11);for(const q of [1371,1416,1454,1480]){if(Math.abs(x-q)<1.2)a=0.35;}return a;}
spec('c1',773,382,actL,spL);
spec('c2',1262,262,actR,()=>null);
})();
</script>
</body></html>
